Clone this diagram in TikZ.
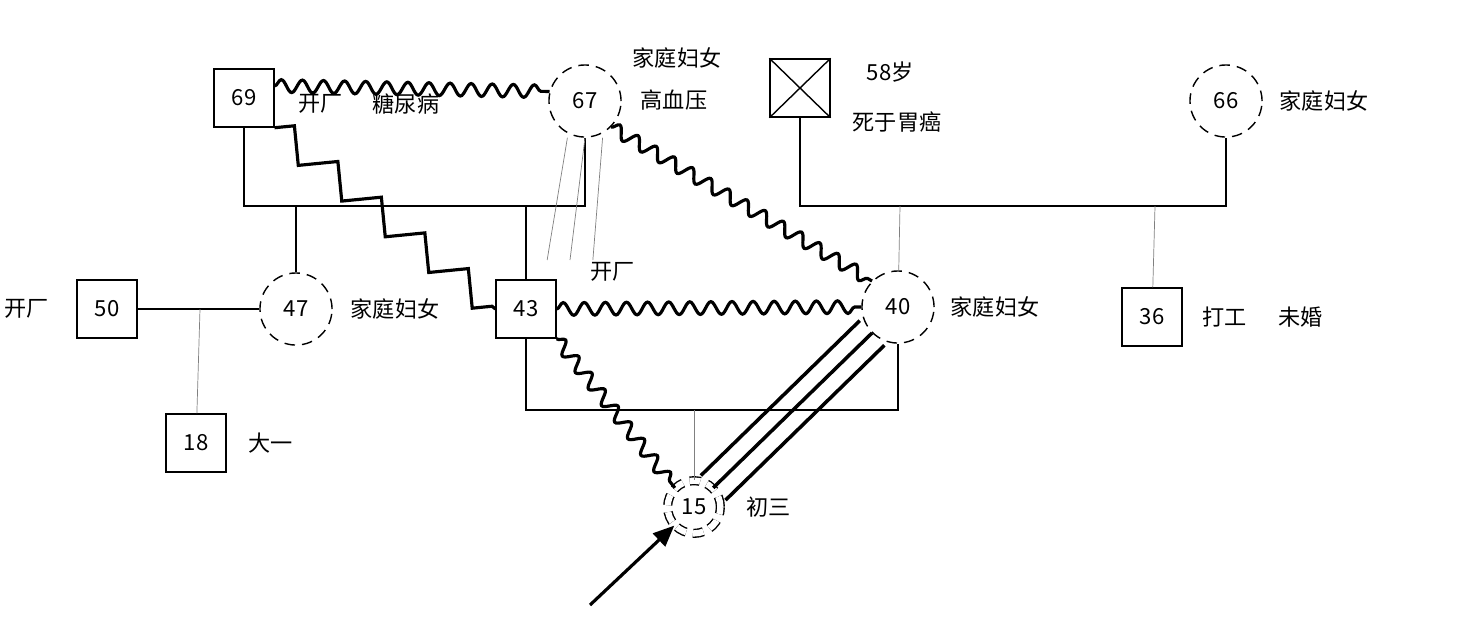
\documentclass[tikz,border=0pt]{standalone}
\usepackage{fontspec}
\setmainfont{Noto Sans CJK SC}
\usetikzlibrary{positioning,decorations.pathmorphing,arrows.meta}
\begin{document}
\begin{tikzpicture}[
  x=0.01cm, y=-0.01cm,
  font=\fontsize{6.3}{8}\selectfont,
  male/.style={draw, thin, minimum width=17pt, minimum height=16.5pt, inner sep=0pt},
  female/.style={draw, thin, densely dashed, circle, minimum size=20.5pt, inner sep=0pt},
  tie/.style={semithick},
  kid/.style={very thin, gray},
  fight/.style={line width=0.9pt, decorate, decoration={snake, amplitude=1.8pt, segment length=6pt}},
  jag/.style={line width=0.9pt, decorate, decoration={zigzag, amplitude=4pt, segment length=16pt}},
  note/.style={anchor=west, inner sep=0pt}
]
\useasboundingbox (0,0) rectangle (1461,635);

% first generation
\node [male] (gf) at (244,98) {69};
\node [female] (gm) at (585,101) {67};
\node [male] (gfb) at (800,88) {};
\draw [thin] (gfb.north west) -- (gfb.south east) (gfb.north east) -- (gfb.south west);
\node [female] (gmb) at (1226,101) {66};

% second generation
\node [male] (uncle) at (107,309) {50};
\node [female] (aunt) at (296,309) {47};
\node [male] (dad) at (526,309) {43};
\node [female] (mom) at (898,307) {40};
\node [male] (mbro) at (1152,317) {36};

% third generation
\node [female, double, double distance=1.8pt, minimum size=15pt] (me) at (694,507) {15};

\node [male] (cousin) at (196,443) {18};

% notes
\node [note] at (298,104) {开厂};
\node [note] at (372,104) {糖尿病};
\node [note] at (632,58) {家庭妇女};
\node [note] at (640,100) {高血压};
\node [note] at (866,72) {58岁};
\node [note] at (852,122) {死于胃癌};
\node [note] at (1279,101) {家庭妇女};
\node [note] at (4,309) {开厂};
\node [note] at (350,309) {家庭妇女};
\node [note] at (590,272) {开厂};
\node [note] at (950,307) {家庭妇女};
\node [note] at (1202,317) {打工};
\node [note] at (1278,317) {未婚};
\node [note] at (248,443) {大一};
\node [note] at (746,507) {初三};

% marriages
\coordinate (ml) at (244,206);
\coordinate (mr) at (585,206);
\draw [tie] (gf) -- (ml) -- (mr) -- (gm);
\coordinate (nl) at (800,206);
\coordinate (nr) at (1226,206);
\draw [tie] (gfb) -- (nl) -- (nr) -- (gmb);
\coordinate (pl) at (526,410);
\coordinate (pr) at (898,410);
\draw [tie] (dad) -- (pl) -- (pr) -- (mom);
\draw [tie] (uncle) -- (aunt);

% children
\draw [tie] (296,206) -- (aunt);
\draw [tie] (526,206) -- (dad);
\draw [kid] (900,206) -- (mom);
\draw [kid] (1155,206) -- (mbro);
\draw [kid] (200,309) -- (cousin);
\draw [kid] (694,410) -- (me);

% relations
\draw [fight] ([yshift=-5pt]gf.north east) -- (gm.165);
\draw [jag] (gf.south east) -- (dad.west);
\draw [fight] (gm.south east) -- (mom.north west);
\draw [fight] (dad.east) -- (mom.west);
\draw [fight] (dad.south east) -- (me.north west);
\foreach \s in {-3.5pt,0pt,3.5pt}
  \draw [line width=1pt] ([xshift=\s, yshift=-\s]mom.225) -- ([xshift=\s, yshift=-\s]me.45);
\foreach \s in {-5,0,5}
  \draw [very thin, gray] ([xshift=\s]gm.south) -- ([xshift=\s*1.3]570,260);

% client
\coordinate (arr) at (590,605);
\draw [-{Triangle[length=6pt,width=5pt]}, line width=0.9pt] (arr) -- (me);
\end{tikzpicture}
\end{document}
